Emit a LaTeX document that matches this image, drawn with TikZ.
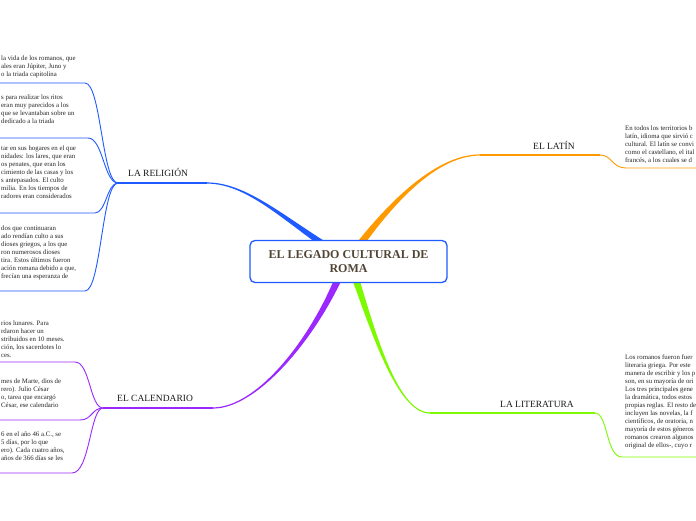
\documentclass[tikz,border=0pt]{standalone}
\usepackage{fontspec}
\setmainfont{Liberation Serif}

\definecolor{relblue}{RGB}{30,90,255}
\definecolor{latorange}{RGB}{255,153,0}
\definecolor{litgreen}{RGB}{125,250,0}
\definecolor{calpurple}{RGB}{155,40,255}
\definecolor{titlebrown}{RGB}{80,68,52}

\begin{document}
\begin{tikzpicture}[
  x=1pt, y=-1pt,
  root/.style={draw=relblue, line width=1.3pt, fill=white, rounded corners=5pt,
               minimum width=197pt, minimum height=42pt, align=center,
               font=\fontsize{12}{13.5}\selectfont\bfseries, text=titlebrown, inner sep=0pt},
  topic/.style={font=\fontsize{9.5}{11}\selectfont, anchor=base west, inner sep=0pt, text=black!90},
  note/.style={font=\fontsize{6.8}{8}\selectfont, anchor=north west, align=left,
               inner sep=0pt, text=black!85},
  twig/.style={line width=0.9pt},
  limb/.style={line width=1.2pt},
]
  \useasboundingbox (0,0) rectangle (696,520);
  \clip (0,0) rectangle (696,520);
  \fill[white] (0,0) rectangle (696,520);

  \def\xL{1}    % left notes
  \def\xR{625}  % right notes

  % --- Branch points ---
  \coordinate (relB) at (118,183);
  \coordinate (relE) at (207,183);
  \coordinate (calB) at (103,408);
  \coordinate (calE) at (213,408);
  \coordinate (latB) at (600,155);
  \coordinate (latE) at (480,155);
  \coordinate (litB) at (595,413);
  \coordinate (litE) at (430,413);

  % --- Thick tapered limbs (behind the root) ---
  \fill[relblue] (207,182.4) .. controls (250,182.4) and (291,223.3) .. (347.1,254.6)
    -- (342.9,261.4) .. controls (289,226.7) and (250,183.6) .. (207,183.6) -- cycle;
  \fill[calpurple] (213,407.4) .. controls (260,407.4) and (318.1,329.3) .. (341.2,260.6)
    -- (348.8,263.4) .. controls (321.9,330.7) and (260,408.6) .. (213,408.6) -- cycle;
  \fill[latorange] (480,155.6) .. controls (440,155.6) and (396.6,196.2) .. (353.3,260.3)
    -- (346.7,255.7) .. controls (393.4,193.8) and (440,154.4) .. (480,154.4) -- cycle;
  \fill[litgreen] (430,413.6) .. controls (395,413.6) and (368.1,320.7) .. (346.2,263.3)
    -- (353.8,260.7) .. controls (371.9,319.3) and (395,412.4) .. (430,412.4) -- cycle;

  % --- Topic lines ---
  \draw[limb, relblue] (relB) -- (relE);
  \draw[limb, calpurple] (calB) -- (calE);
  \draw[limb, latorange] (latE) -- (latB);
  \draw[limb, litgreen] (litE) -- (litB);

  % --- Religion twigs ---
  \draw[twig, relblue] (0,83) -- (85,83) .. controls (101,83) and (102,183) .. (relB);
  \draw[twig, relblue] (0,138) -- (88,138) .. controls (103,138) and (104,183) .. (relB);
  \draw[twig, relblue] (0,213) -- (95,213) .. controls (106,213) and (107,183) .. (relB);
  \draw[twig, relblue] (0,291) -- (85,291) .. controls (101,291) and (102,183) .. (relB);

  % --- Calendar twigs ---
  \draw[twig, calpurple] (0,362) -- (75,362) .. controls (90,362) and (90,408) .. (calB);
  \draw[twig, calpurple] (0,420) -- (80,420) .. controls (92,420) and (92,408) .. (calB);
  \draw[twig, calpurple] (0,473) -- (72,473) .. controls (90,473) and (90,408) .. (calB);

  % --- Right twigs ---
  \draw[twig, latorange] (latB) .. controls (612,155) and (612,168) .. (626,168) -- (696,168);
  \draw[twig, litgreen] (litB) .. controls (608,413) and (606,457) .. (622,457) -- (696,457);

  % --- Root ---
  \node[root] (root) at (348.5,261.5) {EL LEGADO CULTURAL DE\\ROMA};

  % --- Topic labels ---
  \node[topic] (rel) at (128,176.5) {LA RELIGIÓN};
  \node[topic] (cal) at (117,401.5) {EL CALENDARIO};
  \node[topic] (lat) at (533,149.5) {EL LATÍN};
  \node[topic] (lit) at (500,407.5) {LA LITERATURA};

  % --- Notes ---
  \node[note] (rel1) at (\xL,56) {la vida de los romanos, que\\ales eran Júpiter, Juno y\\o la triada capitolina};
  \node[note] (rel2) at (\xL,95) {s para realizar los ritos\\eran muy parecidos a los\\que se levantaban sobre un\\dedicado a la triada};
  \node[note] (rel3) at (\xL,146) {tar en sus hogares en el que\\nidades: los lares, que eran\\os penates, que eran los\\cimiento de las casas y los\\s antepasados. El culto\\milia. En los tiempos de\\radores eran considerados};
  \node[note] (rel4) at (\xL,226) {dos que continuaran\\ado rendían culto a sus\\dioses griegos, a los que\\ron numerosos dioses\\tira. Estos últimos fueron\\ación romana debido a que,\\frecían una esperanza de};

  \node[note] (cal1) at (\xL,321) {rios lunares. Para\\rdaron hacer un\\stribuidos en 10 meses.\\ción, los sacerdotes lo\\ces.};
  \node[note] (cal2) at (\xL,379) {mes de Marte, dios de\\rero). Julio César\\o, tarea que encargó\\César, ese calendario};
  \node[note] (cal3) at (\xL,432) {6 en el año 46 a.C., se\\5 días, por lo que\\ero). Cada cuatro años,\\años de 366 días se les};

  \node[note] (lat1) at (\xR,126) {En todos los territorios b\\latín, idioma que sirvió c\\cultural. El latín se convi\\como el castellano, el ital\\francés, a los cuales se d};
  \node[note] (lit1) at (\xR,355) {Los romanos fueron fuer\\literaria griega. Por este\\manera de escribir y los p\\son, en su mayoría de ori\\Los tres principales gene\\la dramática, todos estos\\propias reglas. El resto de\\incluyen las novelas, la f\\científicos, de oratoria, n\\mayoría de estos géneros\\romanos crearon algunos\\original de ellos-, cuyo r};
\end{tikzpicture}
\end{document}
